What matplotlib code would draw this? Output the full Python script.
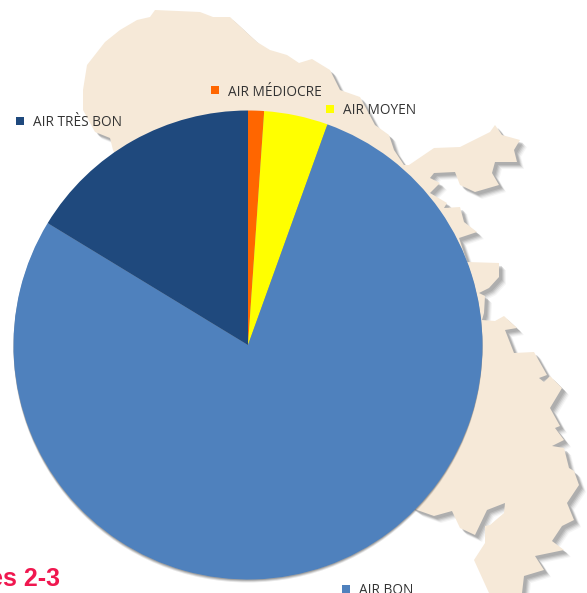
import matplotlib
matplotlib.use("Agg")
import matplotlib.pyplot as plt
from matplotlib.patches import Polygon, Circle

# Pie data, clockwise from the top
labels = ["AIR MÉDIOCRE", "AIR MOYEN", "AIR BON", "AIR TRÈS BON"]
values = [1.1, 4.4, 78.2, 16.3]
colors = ["#ff6600", "#ffff00", "#4f81bd", "#1f497d"]

# where each label goes, in image pixels (left of the square, middle of the square)
label_x = [211, 326, 342, 16]
label_y = [90, 109, 589, 121]

# outline of the island behind the pie, in image pixels
map_x = [155, 200, 213, 230, 257, 270, 287, 299, 312, 330, 340, 360, 375, 389, 394, 404,
         409, 434, 460, 490, 495, 502, 520, 514, 517, 495, 492, 499, 475, 460, 455, 434,
         430, 440, 430, 447, 444, 460, 464, 477, 459, 467, 499, 499, 489, 479, 485, 484,
         482, 495, 504, 517, 505, 514, 534, 547, 539, 544, 550, 562, 550, 560, 555, 564,
         552, 564, 569, 574, 579, 567, 574, 562, 552, 564, 535, 544, 524, 522, 489, 474,
         485, 485, 490, 504, 505, 487, 475, 460, 452, 434, 417, 250, 113, 110, 95, 83,
         83, 87, 105, 120, 137, 150]
map_y = [10, 12, 17, 17, 42, 50, 55, 63, 59, 70, 90, 97, 125, 135, 150, 165,
         165, 148, 147, 132, 125, 135, 140, 150, 162, 162, 173, 185, 192, 185, 172, 173,
         178, 183, 193, 203, 208, 207, 222, 232, 238, 262, 263, 277, 288, 293, 296, 313,
         320, 321, 316, 328, 330, 353, 352, 375, 378, 382, 376, 388, 408, 426, 428, 440,
         446, 448, 468, 471, 485, 503, 520, 526, 541, 550, 556, 570, 576, 593, 593, 560,
         543, 526, 525, 513, 503, 510, 535, 528, 511, 516, 510, 400, 150, 138, 132, 110,
         90, 65, 42, 30, 20, 17]

H = 593
fig = plt.figure(figsize=(5.87, 5.93), dpi=100)
ax = fig.add_axes([0, 0, 1, 1])

# soft shadow under the island, a few stacked offsets
pts = [(x, H - y) for x, y in zip(map_x, map_y)]
for off, a in [(7, 0.08), (6, 0.12), (5, 0.18), (4, 0.25), (3, 0.25)]:
    ax.add_patch(Polygon([(x + off, y - off) for x, y in pts], fc="#808080", ec="none", alpha=a, zorder=1))
ax.add_patch(Polygon(pts, fc="#f6e9d8", ec="none", zorder=2))

# small shadow under the pie
for off, a in [(3, 0.15), (2, 0.25), (1, 0.35)]:
    ax.add_patch(Circle((248, H - 345 - off), 234.5, fc="#606060", ec="none", alpha=a, zorder=3))

wedges, _ = ax.pie(values, colors=colors, startangle=90, counterclock=False,
                   center=(248, H - 345), radius=234.5, frame=True)
for w in wedges:
    w.set_zorder(4)

for name, c, x, y in zip(labels, colors, label_x, label_y):
    ax.plot([x + 4], [H - y], marker="s", ms=6.2, color=c, mew=0, zorder=5, clip_on=False)
    ax.text(x + 17, H - y - 5.5, name, fontsize=9.8, family="Open Sans", color="#333333",
            va="baseline", ha="left", zorder=5)

ax.text(-11, H - 586, "es 2-3", fontsize=18, family="Liberation Sans", fontweight="bold",
        color="#f0174f", va="baseline", ha="left", zorder=6)

ax.set_xlim(0, 587)
ax.set_ylim(0, H)
ax.set_aspect("auto")
ax.axis("off")
fig.savefig("out.png", dpi=100)
